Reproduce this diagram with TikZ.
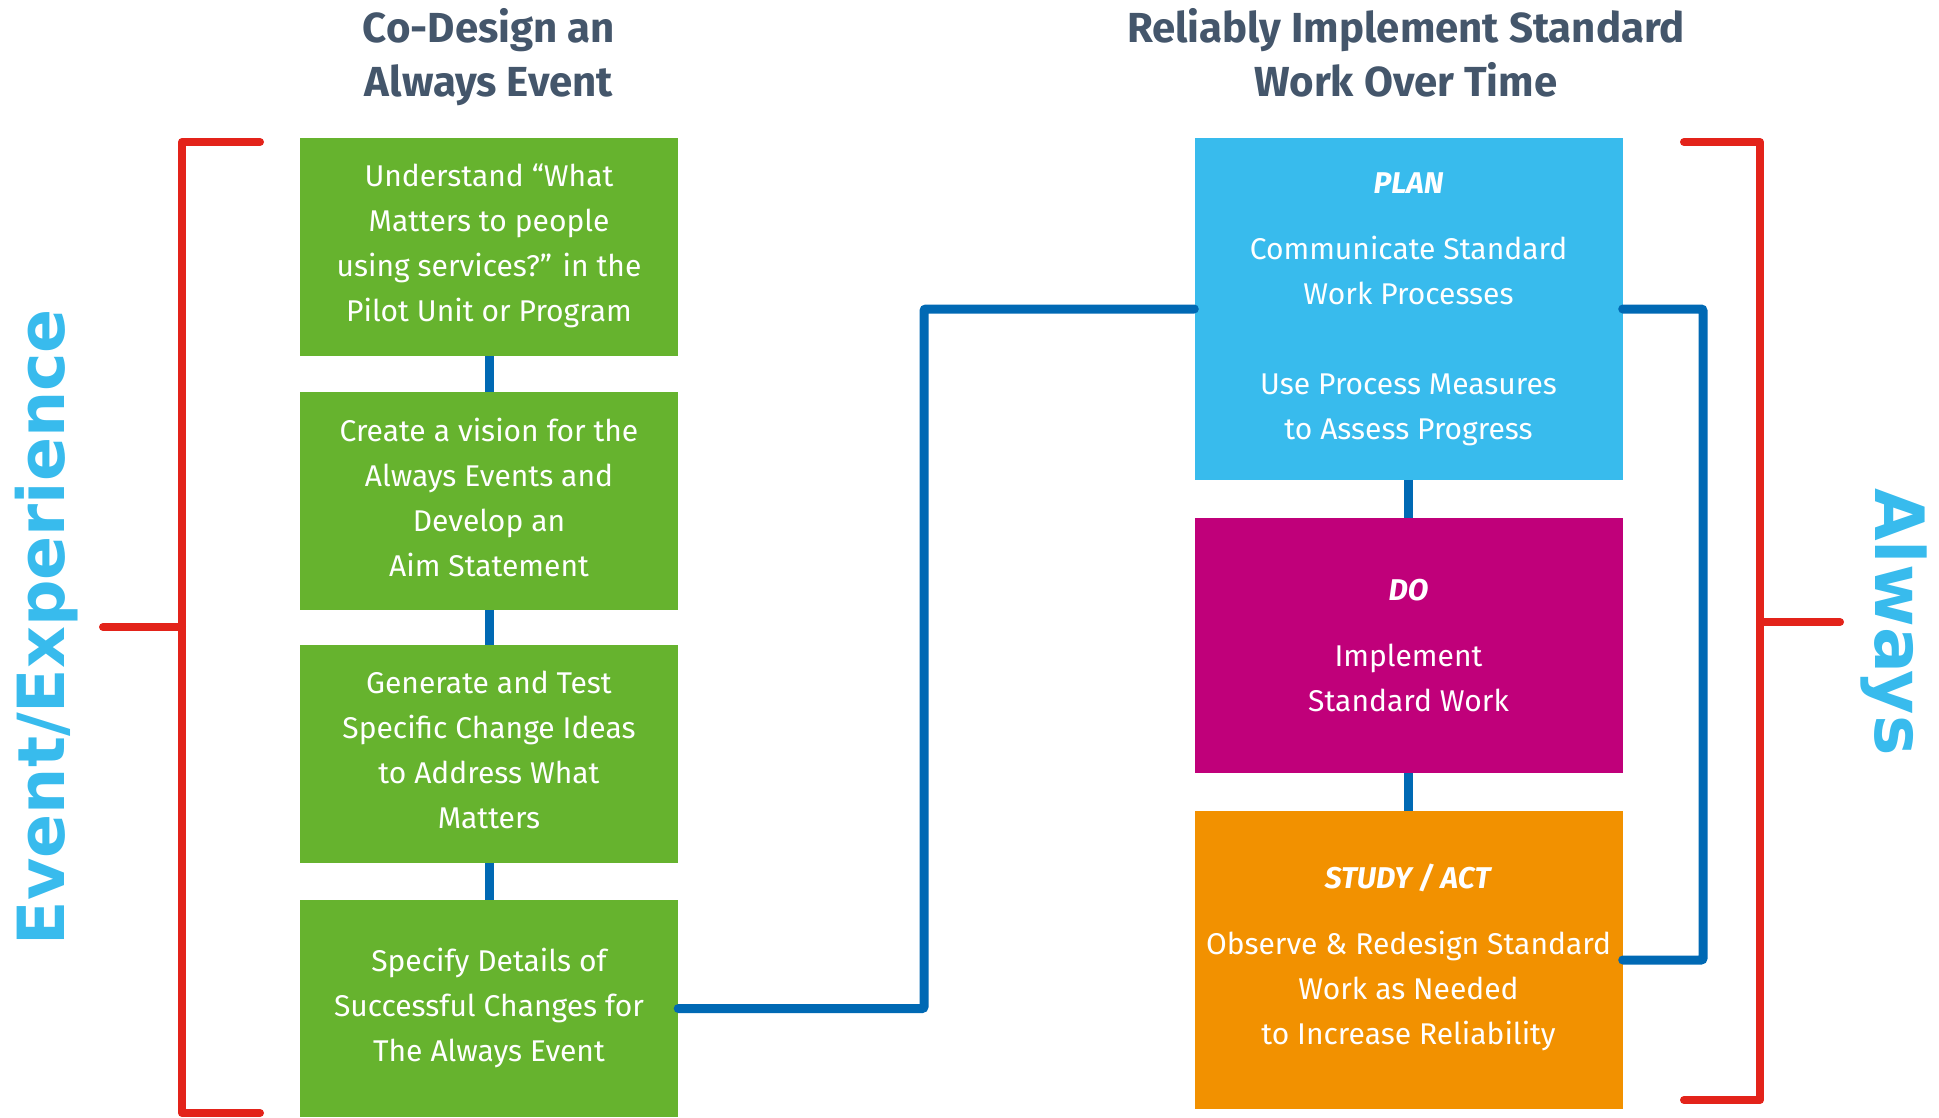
\documentclass[tikz,border=0pt]{standalone}
\usepackage{fontspec}
\setmainfont{Fira Sans}
\newfontfamily\sidefont{DejaVu Sans}
\definecolor{cgreen}{HTML}{66B32E}
\definecolor{cblue}{HTML}{0069B4}
\definecolor{cred}{HTML}{E3231A}
\definecolor{csky}{HTML}{38BBED}
\definecolor{cmag}{HTML}{C0007A}
\definecolor{corange}{HTML}{F29100}
\definecolor{ctitle}{HTML}{44566B}
\newcommand\cardfont{\fontsize{30}{45}\selectfont}
\newcommand\titlefont{\fontsize{42}{54}\selectfont\bfseries}
\begin{document}
\begin{tikzpicture}[x=1pt,y=-1pt,
  card/.style={rectangle, draw=none, text=white, align=center, font=\cardfont, inner sep=0pt},
  gcard/.style={card, fill=cgreen, minimum width=378pt, minimum height=217.5pt},
  rcard/.style={card, minimum width=428pt},
  link/.style={draw=cblue, line width=9pt, line cap=round, rounded corners=2pt},
  brace/.style={draw=cred, line width=8pt, line cap=round, line join=round},
  head/.style={font=\titlefont, text=ctitle, align=center, anchor=north, inner sep=0pt},
  side/.style={font=\sidefont\bfseries, text=csky}]
\useasboundingbox (0,0) rectangle (1939,1117);

% column headings
\node[head] (h1) at (489,8.5) {Co-Design an\\Always Event};
\node[head] (h2) at (1406,8.5) {Reliably Implement Standard\\Work Over Time};

% red brackets with their side labels
\coordinate (lt) at (260,142);
\coordinate (lb) at (260,1113);
\coordinate (lv) at (182,627);
\coordinate (ltick) at (103,627);
\draw[brace] (lt) -| (lv) |- (lb);
\draw[brace] (ltick) -- (lv);
\node[side, rotate=90, font=\sidefont\bfseries\fontsize{65}{70}\selectfont] (ev) at (47,627) {Event/Experience};

\coordinate (rt) at (1684,142);
\coordinate (rb) at (1684,1100);
\coordinate (rv) at (1760,622);
\coordinate (rtick) at (1840,622);
\draw[brace] (rt) -| (rv) |- (rb);
\draw[brace] (rtick) -- (rv);
\node[side, rotate=-90, font=\sidefont\bfseries\fontsize{68}{72}\selectfont] (al) at (1894,622) {Always};

% co-design steps (trailing negative skip lifts the text a little)
\node[gcard] (g1) at (489,247) {Understand “What\\Matters to people\\using services?” in the\\Pilot Unit or Program\\[-37pt]};
\node[gcard] (g2) at (489,501) {Create a vision for the\\Always Events and\\Develop an\\Aim Statement\\[-37pt]};
\node[gcard] (g3) at (489,754) {Generate and Test\\Specific Change Ideas\\to Address What\\Matters\\[-37pt]};
\node[gcard] (g4) at (489,1008.5) {Specify Details of\\Successful Changes for\\The Always Event\\[-37pt]};

% PDSA cycle
\node[rcard, fill=csky, minimum height=341.5pt] (plan) at (1408.5,309)
  {\textbf{\textit{PLAN}}\\[21pt]Communicate Standard\\Work Processes\\[45pt]Use Process Measures\\to Assess Progress};
\node[rcard, fill=cmag, minimum height=255pt] (do) at (1408.5,645.5)
  {\textbf{\textit{DO}}\\[21pt]Implement\\Standard Work};
\node[rcard, fill=corange, minimum height=298pt] (study) at (1408.5,960)
  {\textbf{\textit{STUDY / ACT}}\\[21pt]Observe \& Redesign Standard\\Work as Needed\\to Increase Reliability\\[-33pt]};

% connectors
\draw[link, line cap=butt] (g1.south) -- (g2.north);
\draw[link, line cap=butt] (g2.south) -- (g3.north);
\draw[link, line cap=butt] (g3.south) -- (g4.north);
\draw[link, line cap=butt] (plan.south) -- (do.north);
\draw[link, line cap=butt] (do.south) -- (study.north);
\coordinate (jog) at (924,600);
\coordinate (loop) at (1703,600);
\draw[link] (g4.east) -| (jog) |- (plan.west);
\draw[link] (plan.east) -| (loop) |- (study.east);
\end{tikzpicture}
\end{document}
